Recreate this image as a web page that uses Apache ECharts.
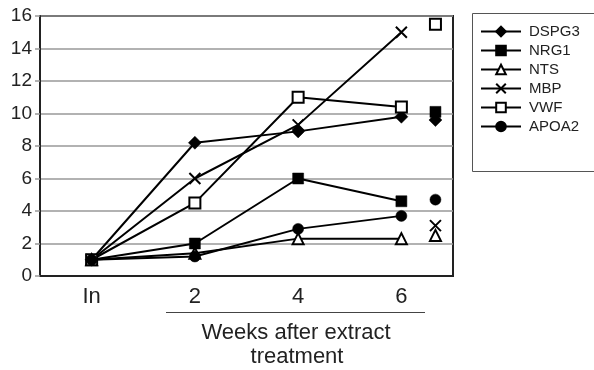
<!DOCTYPE html>
<html><head><meta charset="utf-8">
<script src="https://cdn.jsdelivr.net/npm/echarts@6/dist/echarts.min.js"></script>
<style>html,body{margin:0;padding:0;background:#fff}#c{width:594px;height:370px}</style>
</head><body><div id="c"></div>
<script>
const categories = ['In', '2', '4', '6'];
const extraSlot = 3.33; // unlabeled position right of week 6
const seriesNames = ['DSPG3', 'NRG1', 'NTS', 'MBP', 'VWF', 'APOA2'];
const DSPG3 = [1, 8.2, 8.9, 9.8];
const NRG1 = [1, 2.0, 6.0, 4.6];
const NTS = [1, 1.4, 2.3, 2.3];
const MBP = [1, 6.0, 9.3, 15.0];
const VWF = [1, 4.5, 11.0, 10.4];
const APOA2 = [1, 1.2, 2.9, 3.7];
const extraValues = [9.6, 10.1, 2.5, 3.1, 15.5, 4.7];
const yTicks = [0, 2, 4, 6, 8, 10, 12, 14, 16];

const FONT = 'Liberation Sans, Arial, sans-serif';
const values = [DSPG3, NRG1, NTS, MBP, VWF, APOA2];
const crossPath = 'path://M0,0L10,10M10,0L0,10';
const styles = [
  {symbol: 'diamond', size: 13, fill: '#000'},
  {symbol: 'rect', size: 11, fill: '#000'},
  {symbol: 'triangle', size: 11, fill: '#fff'},
  {symbol: crossPath, size: 11, fill: '#000'},
  {symbol: 'rect', size: 11, fill: '#fff'},
  {symbol: 'circle', size: 11, fill: '#000'}
];

const series = [];
seriesNames.forEach((n, i) => {
  const st = styles[i];
  const bw = st.fill === '#fff' || st.symbol === crossPath ? 2 : 0.5;
  series.push({
    name: n, type: 'line',
    data: values[i].map((v, j) => [j, v]),
    symbol: st.symbol, symbolSize: st.size,
    showAllSymbol: true,
    lineStyle: {color: '#000', width: 2},
    itemStyle: {color: st.fill, borderColor: '#000', borderWidth: bw},
    z: 2 + i
  });
  series.push({
    name: n + '_extra', type: 'scatter',
    data: [[extraSlot, extraValues[i]]],
    symbol: st.symbol, symbolSize: st.size,
    itemStyle: {color: st.fill, borderColor: '#000', borderWidth: bw, opacity: 1},
    z: 2 + i
  });
});

const chart = echarts.init(document.getElementById('c'), null, {renderer: 'canvas'});
chart.setOption({
  animation: false,
  backgroundColor: '#fff',
  textStyle: {fontFamily: FONT},
  grid: {left: 40, right: 141, top: 16, bottom: 94, show: true, borderColor: '#222', borderWidth: 2, backgroundColor: 'transparent'},
  xAxis: {
    type: 'value', min: -0.5, max: 3.5,
    axisLine: {show: true, onZero: false, lineStyle: {color: '#222', width: 2}},
    axisTick: {show: false},
    splitLine: {show: false},
    axisLabel: {
      customValues: [0, 1, 2, 3],
      formatter: v => categories[Math.round(v)],
      fontSize: 22, color: '#222', margin: 10, fontFamily: FONT
    }
  },
  yAxis: {
    type: 'value', min: 0, max: 16, interval: 2,
    axisLine: {show: true, onZero: false, lineStyle: {color: '#222', width: 2}},
    axisTick: {show: true, inside: false, length: 5, lineStyle: {color: '#999', width: 1.5}},
    splitLine: {show: true, lineStyle: {color: '#999', width: 1.5}},
    axisLabel: {
      formatter: v => (yTicks.indexOf(v) >= 0 ? String(v) : ''),
      fontSize: 19, color: '#222', margin: 8, fontFamily: FONT
    }
  },
  legend: {
    data: seriesNames,
    orient: 'vertical',
    left: 480, top: 24, padding: 0,
    itemWidth: 40, itemHeight: 12, itemGap: 4,
    textStyle: {fontSize: 15, lineHeight: 15, color: '#222', padding: [0, 0, 0, 3], fontFamily: FONT},
    selectedMode: false
  },
  graphic: [
    {type: 'rect', shape: {x: 472.5, y: 13.5, width: 140, height: 158}, style: {fill: 'none', stroke: '#555', lineWidth: 1}},
    {type: 'line', shape: {x1: 166, y1: 312.5, x2: 425, y2: 312.5}, style: {stroke: '#444', lineWidth: 1.2}},
    {type: 'text', x: 296, y: 333, style: {text: 'Weeks after extract', fontSize: 22, fill: '#222', align: 'center', verticalAlign: 'middle', fontFamily: FONT}},
    {type: 'text', x: 297, y: 357, style: {text: 'treatment', fontSize: 22, fill: '#222', align: 'center', verticalAlign: 'middle', fontFamily: FONT}}
  ],
  series: series
});
</script>
</body></html>
